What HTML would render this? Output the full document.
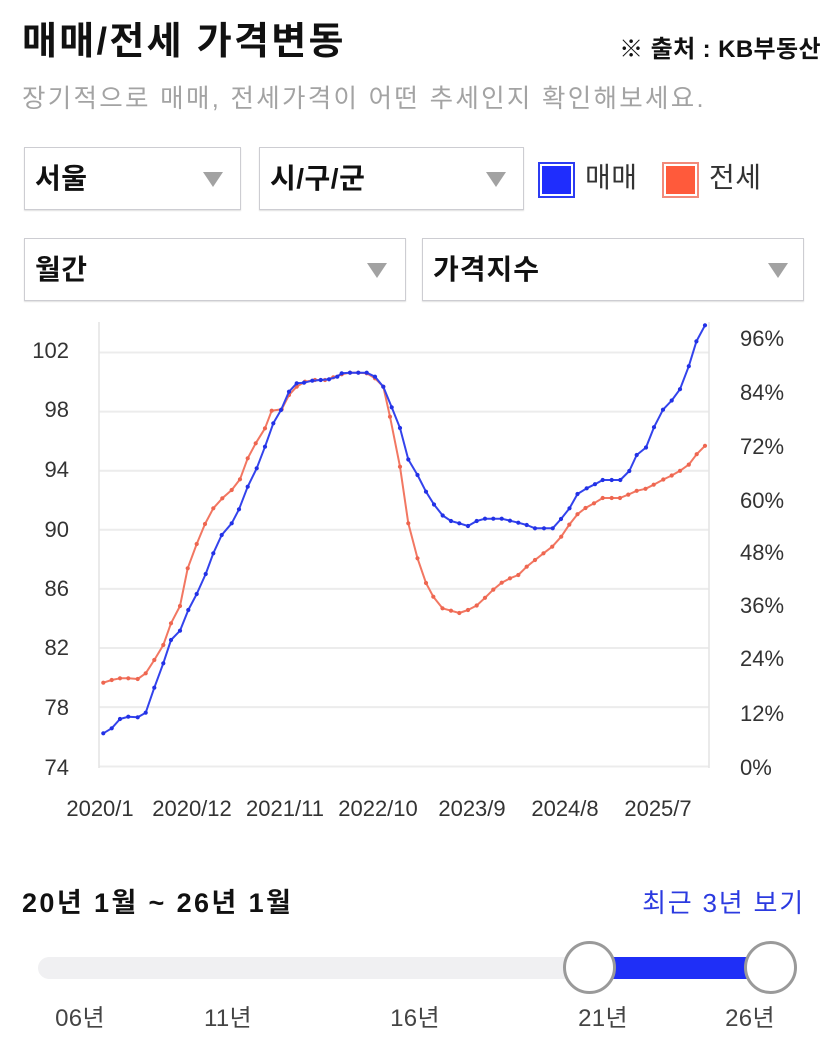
<!DOCTYPE html>
<html><head><meta charset="utf-8">
<style>
*{box-sizing:border-box}
body{margin:0;width:827px;height:1048px;position:relative;background:#fff;overflow:hidden;font-family:"Liberation Sans","Noto Sans CJK KR",sans-serif;color:#111}
.a{position:absolute;white-space:nowrap;line-height:1}
.box{position:absolute;border:1.5px solid #cdcdd2;box-shadow:0 1px 1px rgba(0,0,0,.12);background:#fff}
.box span{position:absolute;left:10px;top:50%;transform:translateY(-50%);font-size:28px;font-weight:bold;line-height:1;color:#111;letter-spacing:0.5px}
.box i{position:absolute;top:50%;margin-top:-7px;width:0;height:0;border-left:10px solid transparent;border-right:10px solid transparent;border-top:15px solid #a2a2a2}
.sq{position:absolute;width:37px;height:36px;padding:2px;background:#fff}
.sq b{display:block;width:100%;height:100%}
.yl{position:absolute;font-size:24px;color:#444;line-height:1;transform:translateX(-50%);top:1007px;letter-spacing:0.3px}
</style></head><body>

<div class="a" style="left:22px;top:23px;font-size:38px;font-weight:bold;letter-spacing:2.3px">매매/전세 가격변동</div>
<div class="a" style="right:6px;top:38px;font-size:24px;font-weight:bold;letter-spacing:0.4px">※ 출처 : KB부동산</div>
<div class="a" style="left:22px;top:87px;font-size:25.5px;letter-spacing:2.3px;color:#a3a3a3">장기적으로 매매, 전세가격이 어떤 추세인지 확인해보세요.</div>

<div class="box" style="left:24px;top:147px;width:217px;height:63px"><span>서울</span><i style="right:17px"></i></div>
<div class="box" style="left:259px;top:147px;width:265px;height:63px"><span>시/구/군</span><i style="right:17px"></i></div>
<div class="sq" style="left:538px;top:162px;border:2px solid #2c3cf2"><b style="background:#1f2dfd"></b></div>
<div class="a" style="left:585px;top:164px;font-size:28px;color:#333;letter-spacing:0.5px">매매</div>
<div class="sq" style="left:662px;top:162px;border:2px solid #f28a7a"><b style="background:#ff5a3b"></b></div>
<div class="a" style="left:709px;top:164px;font-size:28px;color:#333;letter-spacing:0.5px">전세</div>

<div class="box" style="left:24px;top:238px;width:382px;height:63px"><span>월간</span><i style="right:18px"></i></div>
<div class="box" style="left:422px;top:238px;width:382px;height:63px"><span style="letter-spacing:1px">가격지수</span><i style="right:15px"></i></div>

<svg width="827" height="850" style="position:absolute;left:0;top:0" xmlns="http://www.w3.org/2000/svg">
<defs>
<marker id="mb" markerUnits="userSpaceOnUse" markerWidth="6" markerHeight="6" refX="3" refY="3"><circle cx="3" cy="3" r="2.1" fill="#2231e6"/></marker>
<marker id="mr" markerUnits="userSpaceOnUse" markerWidth="6" markerHeight="6" refX="3" refY="3"><circle cx="3" cy="3" r="2.1" fill="#ee6650"/></marker>
</defs>
<g stroke="#ececec" stroke-width="2">
<line x1="99" y1="352.5" x2="709" y2="352.5"/>
<line x1="99" y1="411.6" x2="709" y2="411.6"/>
<line x1="99" y1="470.7" x2="709" y2="470.7"/>
<line x1="99" y1="529.8" x2="709" y2="529.8"/>
<line x1="99" y1="588.9" x2="709" y2="588.9"/>
<line x1="99" y1="648" x2="709" y2="648"/>
<line x1="99" y1="707.1" x2="709" y2="707.1"/>
<line x1="99" y1="766.5" x2="709" y2="766.5"/>
</g>
<g stroke="#e4e4e4" stroke-width="1.5">
<line x1="99" y1="322" x2="99" y2="768"/>
<line x1="709" y1="322" x2="709" y2="768"/>
</g>
<polyline fill="none" stroke="#f27762" stroke-width="2" stroke-linejoin="round" marker-start="url(#mr)" marker-mid="url(#mr)" marker-end="url(#mr)" points="103.3,682.7 111.7,680 120,678.3 128.3,678.3 137.7,679 145.7,673.3 154.3,660 163.3,645 171,623.3 180,606 187.7,568.3 196.7,544 205,524 213.3,508.3 222.3,498.3 231.7,490 240,479.3 247.7,458.3 255.7,443.3 265,428.3 271.7,410.7 281.7,409.3 289,395 296.7,386.7 305,381.7 315,380 325,380 333.3,377.3 341.7,374.3 350,372.7 358.3,372.7 366.7,373.3 375,378.3 383.3,386.7 390,416.7 400,466.7 408.3,523.3 417.5,558.3 426,583 433.3,596.7 442.5,608.3 451,610.7 459.3,613 468,610 476.7,605.5 485,597.8 493.3,589.6 501.7,582.7 510,578.3 518.3,575 526.7,566.7 535,560 543.5,553.3 552.2,546.7 561.2,536.7 569.3,524.6 577.5,514.2 585.5,508 594,503.3 602.7,498 611.7,498 620,498 628.3,494.6 636.7,490.8 645.5,488.8 653.7,484.7 663.3,479.5 671.7,475.5 680,470.8 688.8,464.6 696.7,454.2 705,445.8"/>
<polyline fill="none" stroke="#3343ec" stroke-width="2" stroke-linejoin="round" marker-start="url(#mb)" marker-mid="url(#mb)" marker-end="url(#mb)" points="103.3,733.3 111.7,728.3 120,719 128.3,716.7 137.7,717.3 145.7,712.7 154.3,687.7 163.3,663.3 171,640 180,630.7 188.3,610 196.7,594 205.7,574 213.3,553.3 221.7,535 231.7,523.3 239,509.3 247.7,486.7 256.7,468.3 265,446.7 273.3,423.3 281,410 289,391.7 296.7,383.3 304,382.7 312.3,380.7 320.7,380 329,379.3 337.3,376.7 341.7,373.3 350,372.7 358.3,372.7 366.7,372.7 375,376.7 383.3,386.7 391.7,407.3 400,428 408.3,459.5 417.5,475 426,491.7 434,504.5 442.7,515.5 451,521 459.3,523.3 468,526 476.7,521 485,518.7 493.3,518.7 501.7,518.7 510,520.7 518.3,522.7 526.7,525 535,528.3 544,528.3 552.7,528.3 561,519 569.5,508.3 577.5,494 586.7,488.3 595,484.2 602.7,480 611.7,480 620.3,480 629.3,471 636.7,455 646,447.5 654,427.2 663,409.7 671.7,400.5 680,389.2 688.8,366.2 696.4,341.4 705,325.3"/>
<g font-family="Liberation Sans, sans-serif" font-size="22" fill="#333" text-anchor="end">
<text x="69" y="358">102</text>
<text x="69" y="417">98</text>
<text x="69" y="477">94</text>
<text x="69" y="537">90</text>
<text x="69" y="596">86</text>
<text x="69" y="655">82</text>
<text x="69" y="715">78</text>
<text x="69" y="775">74</text>
</g>
<g font-family="Liberation Sans, sans-serif" font-size="22" fill="#333" text-anchor="start">
<text x="740" y="346">96%</text>
<text x="740" y="400">84%</text>
<text x="740" y="454">72%</text>
<text x="740" y="508">60%</text>
<text x="740" y="560">48%</text>
<text x="740" y="613">36%</text>
<text x="740" y="666">24%</text>
<text x="740" y="721">12%</text>
<text x="740" y="775">0%</text>
</g>
<g font-family="Liberation Sans, sans-serif" font-size="22" fill="#333" text-anchor="middle">
<text x="100" y="816">2020/1</text>
<text x="192" y="816">2020/12</text>
<text x="285" y="816">2021/11</text>
<text x="378" y="816">2022/10</text>
<text x="472" y="816">2023/9</text>
<text x="565" y="816">2024/8</text>
<text x="658" y="816">2025/7</text>
</g>
</svg>

<div class="a" style="left:22px;top:890px;font-size:27px;font-weight:bold;letter-spacing:2.4px">20년 1월 ~ 26년 1월</div>
<div class="a" style="right:22px;top:890px;font-size:26px;color:#2b3ae0;letter-spacing:1.8px">최근 3년 보기</div>

<div style="position:absolute;left:38px;top:957px;width:560px;height:22px;border-radius:11px;background:#f0f0f2"></div>
<div style="position:absolute;left:610px;top:957px;width:140px;height:22px;background:#1f2ff7"></div>
<div style="position:absolute;left:563px;top:941px;width:53px;height:53px;border-radius:50%;border:3px solid #9a9a9a;background:#fff"></div>
<div style="position:absolute;left:744px;top:941px;width:53px;height:53px;border-radius:50%;border:3px solid #9a9a9a;background:#fff"></div>

<div class="yl" style="left:80px">06년</div>
<div class="yl" style="left:228px">11년</div>
<div class="yl" style="left:415px">16년</div>
<div class="yl" style="left:603px">21년</div>
<div class="yl" style="left:750px">26년</div>

</body></html>
